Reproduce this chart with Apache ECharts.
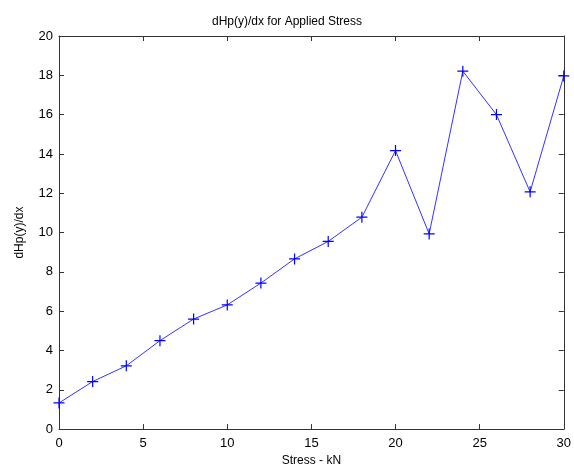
<!DOCTYPE html>
<html>
<head>
<meta charset="utf-8">
<script src="https://cdn.jsdelivr.net/npm/echarts@6/dist/echarts.min.js"></script>
<style>html,body{margin:0;padding:0;background:#fff;}#c{width:574px;height:472px;}</style>
</head>
<body>
<div id="c"></div>
<script>
var stress = [0, 2, 4, 6, 8, 10, 12, 14, 16, 18, 20, 22, 24, 26, 28, 30];
var dHp = [1.33, 2.42, 3.22, 4.5, 5.6, 6.32, 7.43, 8.66, 9.55, 10.78, 14.17, 9.93, 18.21, 16.0, 12.07, 17.97];
var xTicks = [0, 5, 10, 15, 20, 25, 30];
var yTicks = [0, 2, 4, 6, 8, 10, 12, 14, 16, 18, 20];

var chart = echarts.init(document.getElementById('c'), null, {renderer: 'canvas'});
var font = 'Liberation Sans, Arial, sans-serif';
var axisLine = {show: true, onZero: false, lineStyle: {color: '#333', width: 1}};
var tick = {show: true, inside: true, length: 5, lineStyle: {color: '#333', width: 1}};
chart.setOption({
  animation: false,
  backgroundColor: '#fff',
  title: {
    text: 'dHp(y)/dx for Applied Stress',
    left: 'center', top: 11,
    textStyle: {fontFamily: font, fontSize: 12, fontWeight: 'normal', color: '#000'}
  },
  grid: {left: 59, right: 8, top: 36, bottom: 37},
  xAxis: [{
    type: 'value', min: xTicks[0], max: xTicks[xTicks.length - 1], interval: 5,
    name: 'Stress - kN', nameLocation: 'middle', nameGap: 23,
    nameTextStyle: {fontFamily: font, fontSize: 12, color: '#000'},
    axisLine: axisLine, axisTick: tick, splitLine: {show: false},
    axisLabel: {fontFamily: font, fontSize: 13, color: '#000', margin: 8}
  }, {
    type: 'value', position: 'top', min: xTicks[0], max: xTicks[xTicks.length - 1], interval: 5,
    axisLine: axisLine, axisTick: tick, splitLine: {show: false}, axisLabel: {show: false}
  }],
  yAxis: [{
    type: 'value', min: yTicks[0], max: yTicks[yTicks.length - 1], interval: 2,
    name: 'dHp(y)/dx', nameLocation: 'middle', nameGap: 33,
    nameTextStyle: {fontFamily: font, fontSize: 12, color: '#000'},
    axisLine: axisLine, axisTick: tick, splitLine: {show: false},
    axisLabel: {fontFamily: font, fontSize: 13, color: '#000', margin: 6}
  }, {
    type: 'value', position: 'right', min: yTicks[0], max: yTicks[yTicks.length - 1], interval: 2,
    axisLine: axisLine, axisTick: tick, splitLine: {show: false}, axisLabel: {show: false}
  }],
  series: [{
    type: 'line',
    data: stress.map(function (s, i) { return [s, dHp[i]]; }),
    lineStyle: {color: '#3333ff', width: 1},
    symbol: 'path://M0,5 L10,5 M5,0 L5,10',
    symbolSize: 11,
    showAllSymbol: true,
    itemStyle: {color: 'none', borderColor: '#0000ff', borderWidth: 1.2},
    clip: false
  }]
});
</script>
</body>
</html>
